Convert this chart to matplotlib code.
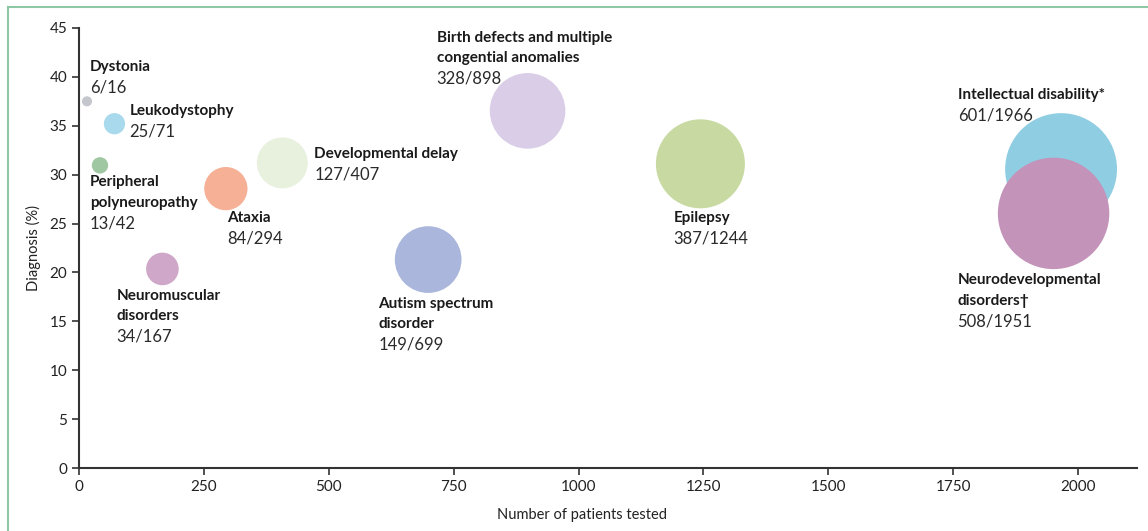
import matplotlib
matplotlib.use('Agg')
import matplotlib.pyplot as plt
from matplotlib.lines import Line2D

# data
names = ['Dystonia', 'Leukodystophy', 'Peripheral\npolyneuropathy', 'Ataxia',
         'Developmental delay', 'Neuromuscular\ndisorders', 'Autism spectrum\ndisorder',
         'Birth defects and multiple\ncongential anomalies', 'Epilepsy',
         'Intellectual disability*', 'Neurodevelopmental\ndisorders\u2020']
diagnosed = [6, 25, 13, 84, 127, 34, 149, 328, 387, 601, 508]
tested = [16, 71, 42, 294, 407, 167, 699, 898, 1244, 1966, 1951]
colors = ['#c3c6cd', '#a9d9ec', '#9fc7a2', '#f5b096', '#e7f1de', '#cfa7c9',
          '#aab6db', '#dacde7', '#c8daa2', '#8fcde2', '#c493b9']

pct = [d / t * 100 for d, t in zip(diagnosed, tested)]

# label offsets from bubble centre, in pixels (x right, y down)
offsets = [(3, -41), (15, -20), (-10, 10), (1, 22), (32, -16), (-46, 20),
           (-50, 37), (-91, -80), (-27, 47), (-103, -81), (-96, 60)]

plt.rcParams['font.family'] = ['Lato', 'DejaVu Sans']
DPI = 100
px = 72 / DPI
line_h = 20.5  # px

fig = plt.figure(figsize=(11.48, 5.31), dpi=DPI)
ax = fig.add_axes([79 / 1148, 1 - 468 / 531, (1137 - 79) / 1148, 440 / 531])

ax.scatter(tested, pct, s=[t * 3.3 for t in tested], c=colors, linewidths=0, zorder=3)

for name, d, t, p, (dx, dy) in zip(names, diagnosed, tested, pct, offsets):
    lines = name.split('\n')
    for i, ln in enumerate(lines):
        ax.annotate(ln, xy=(t, p), xytext=(dx * px, -(dy + i * line_h) * px),
                    textcoords='offset points', ha='left', va='top', fontsize=11,
                    fontweight='bold', color='#1a1a1a', zorder=4)
    ax.annotate(f'{d}/{t}', xy=(t, p), xytext=(dx * px, -(dy + len(lines) * line_h - 1) * px),
                textcoords='offset points', ha='left', va='top', fontsize=12,
                color='#2a2a2a', zorder=4)

ax.set_xlim(0, 2118)
ax.set_ylim(0, 45)
ax.set_xticks([0, 250, 500, 750, 1000, 1250, 1500, 1750, 2000])
ax.set_yticks(range(0, 46, 5))
ax.spines['top'].set_visible(False)
ax.spines['right'].set_visible(False)
for s in ['left', 'bottom']:
    ax.spines[s].set_color('#333333')
    ax.spines[s].set_linewidth(1.5)
ax.tick_params(colors='#333333', width=1.2, length=5, labelsize=11, labelcolor='#222222')
ax.set_xlabel('Number of patients tested', fontsize=10.5, color='#222222')
ax.set_ylabel('Diagnosis (%)', fontsize=10.5, color='#222222')
ax.xaxis.set_label_coords(0.475, -0.09)
ax.yaxis.set_label_coords(-0.036, 0.5)

# frame lines (left and top)
fig.add_artist(Line2D([8 / 1148, 8 / 1148], [0, 1 - 7 / 531], transform=fig.transFigure,
                      color='#8dc7a5', linewidth=1.5))
fig.add_artist(Line2D([8 / 1148, 1], [1 - 7 / 531, 1 - 7 / 531], transform=fig.transFigure,
                      color='#8dc7a5', linewidth=1.5))

fig.savefig('out.png', dpi=DPI)
plt.close(fig)
